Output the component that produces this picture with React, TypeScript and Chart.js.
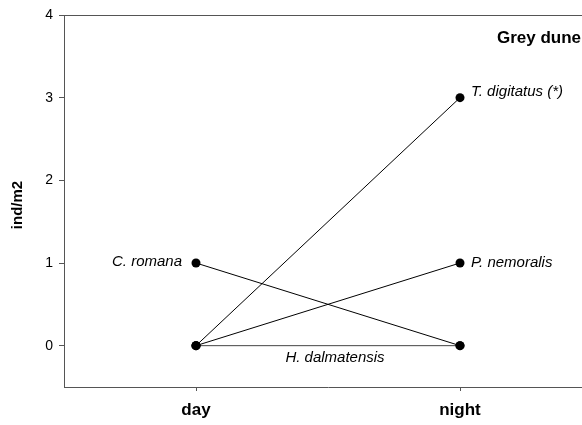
import React, { useEffect, useRef } from "react";
import { Chart, registerables } from "chart.js";

Chart.register(...registerables);

const categories = ["day", "night"];
const seriesNames = ["T. digitatus (*)", "P. nemoralis", "C. romana", "H. dalmatensis"];
const seriesValues = [
  [0, 3],
  [0, 1],
  [1, 0],
  [0, 0],
];
const yTicks = [0, 1, 2, 3, 4];
const panelTitle = "Grey dune";
const yTitle = "ind/m2";

const FONT = "Arial, 'Liberation Sans', sans-serif";

// label placement: which point, and anchor
const labelSpec = [
  { pt: 1, align: "left", dx: 11, dy: -6 },
  { pt: 1, align: "left", dx: 11, dy: 0 },
  { pt: 0, align: "right", dx: -14, dy: -1 },
  { pt: -1, align: "center", dx: 7, dy: 12 },
];

const boxPlugin = {
  id: "boxAndLabels",
  afterDraw(chart: any) {
    const { ctx, chartArea } = chart;
    ctx.save();
    ctx.strokeStyle = "#555";
    ctx.lineWidth = 1;
    ctx.beginPath();
    ctx.moveTo(chartArea.left, chartArea.top + 0.5);
    ctx.lineTo(chartArea.right, chartArea.top + 0.5);
    ctx.moveTo(chartArea.right - 0.5, chartArea.top);
    ctx.lineTo(chartArea.right - 0.5, chartArea.bottom);
    ctx.stroke();

    const xs = chart.scales.x;
    const ys = chart.scales.y;
    ctx.fillStyle = "#000";
    ctx.textBaseline = "middle";
    ctx.font = `italic 15px ${FONT}`;
    seriesNames.forEach((name, i) => {
      const spec = labelSpec[i];
      let px: number, py: number;
      if (spec.pt < 0) {
        px = (xs.getPixelForValue(0) + xs.getPixelForValue(1)) / 2;
        py = ys.getPixelForValue((seriesValues[i][0] + seriesValues[i][1]) / 2);
      } else {
        px = xs.getPixelForValue(spec.pt);
        py = ys.getPixelForValue(seriesValues[i][spec.pt]);
      }
      ctx.textAlign = spec.align;
      ctx.fillText(name, px + spec.dx, py + spec.dy);
    });
    ctx.font = `bold 17px ${FONT}`;
    ctx.textAlign = "left";
    ctx.fillText(panelTitle, 497, 38);

    ctx.translate(18, 205);
    ctx.rotate(-Math.PI / 2);
    ctx.textAlign = "center";
    ctx.font = `bold 15px ${FONT}`;
    ctx.fillText(yTitle, 0, 0);
    ctx.restore();
  },
};

export default function App() {
  const ref = useRef<HTMLCanvasElement>(null);
  useEffect(() => {
    const datasets = seriesNames.map((name, i) => ({
      label: name,
      data: seriesValues[i].map((v, j) => ({ x: j, y: v })),
      borderColor: i === 3 ? "#444" : "#000",
      borderWidth: 1,
      backgroundColor: "#000",
      pointBackgroundColor: "#000",
      pointBorderColor: "#000",
      pointRadius: 4.5,
      pointBorderWidth: 0,
      showLine: true,
    }));
    const chart = new Chart(ref.current!, {
      type: "scatter",
      data: { datasets },
      plugins: [boxPlugin],
      options: {
        responsive: false,
        animation: false,
        devicePixelRatio: 1,
        layout: { padding: { top: 15, right: 8, left: 0, bottom: 0 } },
        plugins: { legend: { display: false }, tooltip: { enabled: false } },
        scales: {
          x: {
            type: "linear",
            min: -0.5,
            max: 1.5,
            afterBuildTicks: (s: any) => {
              s.ticks = categories.map((_, i) => ({ value: i }));
            },
            afterFit: (s: any) => {
              s.height = 38;
            },
            ticks: {
              callback: (v: any) => categories[v] ?? "",
              color: "#000",
              font: { family: FONT, size: 17, weight: "bold" },
              padding: 9,
              maxRotation: 0,
            },
            grid: { drawOnChartArea: false, drawTicks: true, tickLength: 4, color: "#555" },
            border: { display: true, color: "#555", width: 1 },
          },
          y: {
            type: "linear",
            min: -0.5,
            max: 4,
            afterBuildTicks: (s: any) => {
              s.ticks = yTicks.map((v) => ({ value: v }));
            },
            afterFit: (s: any) => {
              s.width = 64;
            },
            ticks: {
              color: "#000",
              font: { family: FONT, size: 14 },
              padding: 6,
            },
            grid: { drawOnChartArea: false, drawTicks: true, tickLength: 5, color: "#555" },
            border: { display: true, color: "#555", width: 1 },
          },
        },
      },
    } as any);
    return () => chart.destroy();
  }, []);
  return (
    <div style={{ position: "absolute", left: 0, top: 0, width: 582, height: 425, overflow: "hidden", background: "#fff" }}>
      <canvas ref={ref} width={600} height={425} />
    </div>
  );
}
